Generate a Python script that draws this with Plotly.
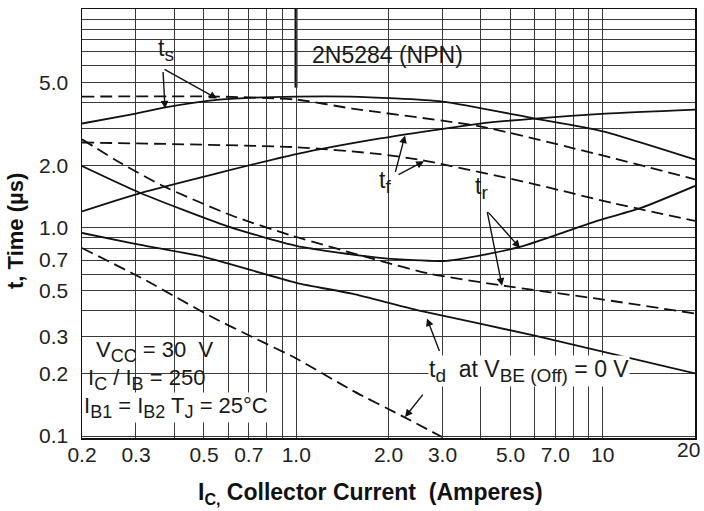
import math
import plotly.graph_objects as go

# ---------------- data ----------------
ic_ts_solid = [0.2, 0.3, 0.37, 0.56, 1.0, 1.5, 3.0, 6.0, 10, 20]
t_ts_solid = [3.17, 3.54, 3.78, 4.13, 4.27, 4.27, 4.04, 3.35, 2.91, 2.13]

ic_ts_dash = [0.2, 0.56, 1.0, 1.52, 3.98, 9.58, 20]
t_ts_dash = [4.27, 4.27, 4.13, 3.74, 3.07, 2.26, 1.71]

ic_tf_solid = [0.2, 0.31, 1.0, 1.88, 3.98, 6.0, 10.2, 20]
t_tf_solid = [1.20, 1.47, 2.26, 2.69, 3.17, 3.35, 3.54, 3.70]

ic_tf_dash = [0.2, 1.0, 1.88, 2.59, 5.79, 10.8, 20]
t_tf_dash = [2.57, 2.44, 2.26, 2.11, 1.64, 1.315, 1.08]

ic_tr_solid = [0.2, 0.31, 0.594, 1.0, 1.88, 3.1, 5.37, 9.58, 13.4, 20]
t_tr_solid = [1.98, 1.47, 1.02, 0.82, 0.718, 0.695, 0.81, 1.08, 1.25, 1.59]

ic_tr_dash = [0.2, 0.272, 0.367, 0.622, 0.975, 1.876, 2.73, 4.73, 9.58, 20]
t_tr_dash = [2.66, 2.02, 1.59, 1.14, 0.915, 0.695, 0.602, 0.528, 0.457, 0.388]

ic_td_solid = [0.2, 0.298, 0.485, 1.0, 1.52, 2.52, 6.0, 20]
t_td_solid = [0.945, 0.838, 0.733, 0.545, 0.483, 0.401, 0.304, 0.200]

ic_td_dash = [0.2, 0.316, 0.408, 0.535, 0.723, 1.0, 1.52, 2.26, 2.99]
t_td_dash = [0.80, 0.57, 0.462, 0.371, 0.298, 0.236, 0.166, 0.123, 0.099]

x_tick_vals = [0.2, 0.3, 0.5, 0.7, 1.0, 2.0, 3.0, 5.0, 7.0, 10, 20]
x_tick_text = ["0.2", "0.3", "0.5", "0.7", "1.0", "2.0", "3.0", "5.0", "7.0", "10", "20"]
y_tick_vals = [0.1, 0.2, 0.3, 0.5, 0.7, 1.0, 2.0, 5.0]
y_tick_text = ["0.1", "0.2", "0.3", "0.5", "0.7", "1.0", "2.0", "5.0"]

# ---------------- figure ----------------
W, H = 704, 511
ML, MR, MT, MB = 82, 9, 7, 73
PW, PH = W - ML - MR, H - MT - MB


def fx(p):  # pixel -> paper x
    return (p - ML) / PW


def fy(p):  # pixel -> paper y
    return (H - MB - p) / PH


def sub(s, size=19):
    return "<sub><span style='font-size:%dpx'>%s</span></sub>" % (size, s)


FONT = "Liberation Sans, Arial, sans-serif"
INK = "#111111"
GRID = "#3a3a3a"

fig = go.Figure()

series = [
    (ic_ts_solid, t_ts_solid, "solid"),
    (ic_ts_dash, t_ts_dash, "12px,6px"),
    (ic_tf_solid, t_tf_solid, "solid"),
    (ic_tf_dash, t_tf_dash, "12px,6px"),
    (ic_tr_solid, t_tr_solid, "solid"),
    (ic_tr_dash, t_tr_dash, "12px,6px"),
    (ic_td_solid, t_td_solid, "solid"),
    (ic_td_dash, t_td_dash, "12px,6px"),
]
for xs, ys, dash in series:
    fig.add_trace(go.Scatter(
        x=xs, y=ys, mode="lines",
        line=dict(color=INK, width=1.8, dash=dash, shape="spline", smoothing=0.6),
        showlegend=False, hoverinfo="skip",
    ))

# grid values (decorative log grid)
x_minor = [0.4, 0.6, 0.8, 0.9, 4.0, 6.0, 8.0, 9.0]
y_minor = [0.4, 0.6, 0.8, 0.9, 3.0, 4.0, 6.0, 7.0, 8.0, 9.0, 10.0]

fig.update_xaxes(
    type="log", range=[math.log10(0.2), math.log10(20)],
    tickmode="array", tickvals=x_tick_vals[:-1], ticktext=x_tick_text[:-1],
    showgrid=True, gridcolor=GRID, gridwidth=1,
    minor=dict(tickmode="array", tickvals=x_minor, showgrid=True, gridcolor=GRID, gridwidth=1, ticks=""),
    showline=True, linecolor=INK, linewidth=1.5, mirror=True,
    ticks="", ticklen=0, ticklabelstandoff=-3,
    tickfont=dict(family=FONT, size=21, color="#222222"),
    zeroline=False,
)
fig.update_yaxes(
    type="log", range=[-1.009, 1.051],
    tickmode="array", tickvals=y_tick_vals, ticktext=y_tick_text,
    showgrid=True, gridcolor=GRID, gridwidth=1,
    minor=dict(tickmode="array", tickvals=y_minor, showgrid=True, gridcolor=GRID, gridwidth=1, ticks=""),
    showline=True, linecolor=INK, linewidth=1.5, mirror=True,
    ticks="", ticklen=0, ticklabelstandoff=8,
    tickfont=dict(family=FONT, size=21, color="#222222"),
    zeroline=False,
)

shapes = [
    # white box for conditions text
    dict(type="rect", xref="paper", yref="paper", x0=0, x1=fx(230), y0=0, y1=fy(336),
         fillcolor="white", line=dict(width=0), layer="between"),
    # white box for part number
    dict(type="rect", xref="paper", yref="paper", x0=fx(297), x1=fx(480), y0=fy(84), y1=fy(22),
         fillcolor="white", line=dict(width=0), layer="between"),
    dict(type="line", xref="paper", yref="paper", x0=fx(296), x1=fx(296), y0=fy(86), y1=1,
         line=dict(color=INK, width=3), layer="between"),
]

ann_font = dict(family=FONT, size=23, color="#1a1a1a")
cond_font = dict(family=FONT, size=22, color="#1a1a1a")
annotations = [
    dict(text="2N5284 (NPN)", x=fx(387), y=fy(53), font=dict(family=FONT, size=23, color="#1a1a1a")),
    dict(text="t" + sub("s"), x=fx(166), y=fy(48), font=ann_font),
    dict(text="t" + sub("f"), x=fx(385), y=fy(181), font=ann_font),
    dict(text="t" + sub("r"), x=fx(481), y=fy(187), font=ann_font),
    dict(text="t" + sub("d") + "\u00a0 at V" + sub("BE (Off)") + " = 0 V", x=fx(428), y=fy(371),
         xanchor="left", font=ann_font, bgcolor="white", borderpad=0),
    dict(text="V" + sub("CC", 18) + " = 30 \u00a0V", x=fx(94), y=fy(351), xanchor="left",
         font=cond_font),
    dict(text="I" + sub("C", 18) + " / I" + sub("B", 18) + " = 250", x=fx(86), y=fy(379), xanchor="left",
         font=cond_font),
    dict(text="I" + sub("B1", 18) + " = I" + sub("B2", 18) + " T" + sub("J", 18) + " = 25°C",
         x=fx(83), y=fy(407), xanchor="left", font=cond_font, bgcolor="white", borderpad=0),
    # last x tick label, right-aligned at the plot edge
    dict(text=x_tick_text[-1], x=fx(702), y=fy(450), xanchor="right",
         font=dict(family=FONT, size=21, color="#222222")),
    # axis titles
    dict(text="t, Time (µs)", x=fx(16), y=fy(230), textangle=-90,
         font=dict(family=FONT, size=22, color="#111111", weight="bold")),
    dict(text="I<sub>C,</sub> Collector Current\u00a0 (Amperes)", x=fx(370), y=fy(494),
         font=dict(family=FONT, size=23, color="#111111", weight="bold")),
]
for a in annotations:
    a.setdefault("xref", "paper")
    a.setdefault("yref", "paper")
    a.setdefault("showarrow", False)
    a.setdefault("xanchor", "center")
    a.setdefault("yanchor", "middle")

# arrows: (tail pixel, tip pixel)
arrows = [
    ((163, 67), (217, 97)),
    ((163, 69), (165, 107)),
    ((395, 172), (405, 134)),
    ((397, 174), (424, 160)),
    ((487, 210), (520, 247)),
    ((487, 210), (502, 285)),
    ((440, 352), (427, 318)),
    ((424, 393), (405, 417)),
]
for (tx, ty), (hx, hy) in arrows:
    annotations.append(dict(
        xref="paper", yref="paper", x=fx(hx), y=fy(hy), ax=tx - hx, ay=ty - hy,
        text="", showarrow=True, arrowhead=2, arrowsize=1.1, arrowwidth=1.4,
        arrowcolor=INK, standoff=0,
    ))

fig.update_layout(
    width=W, height=H, autosize=False,
    margin=dict(l=ML, r=MR, t=MT, b=MB, pad=0),
    paper_bgcolor="white", plot_bgcolor="white",
    shapes=shapes, annotations=annotations,
    showlegend=False,
)

fig.write_html(
    "out.html",
    config={"displayModeBar": False, "staticPlot": True},
    post_script="document.body.style.margin='0';document.body.style.overflow='hidden';",
)
